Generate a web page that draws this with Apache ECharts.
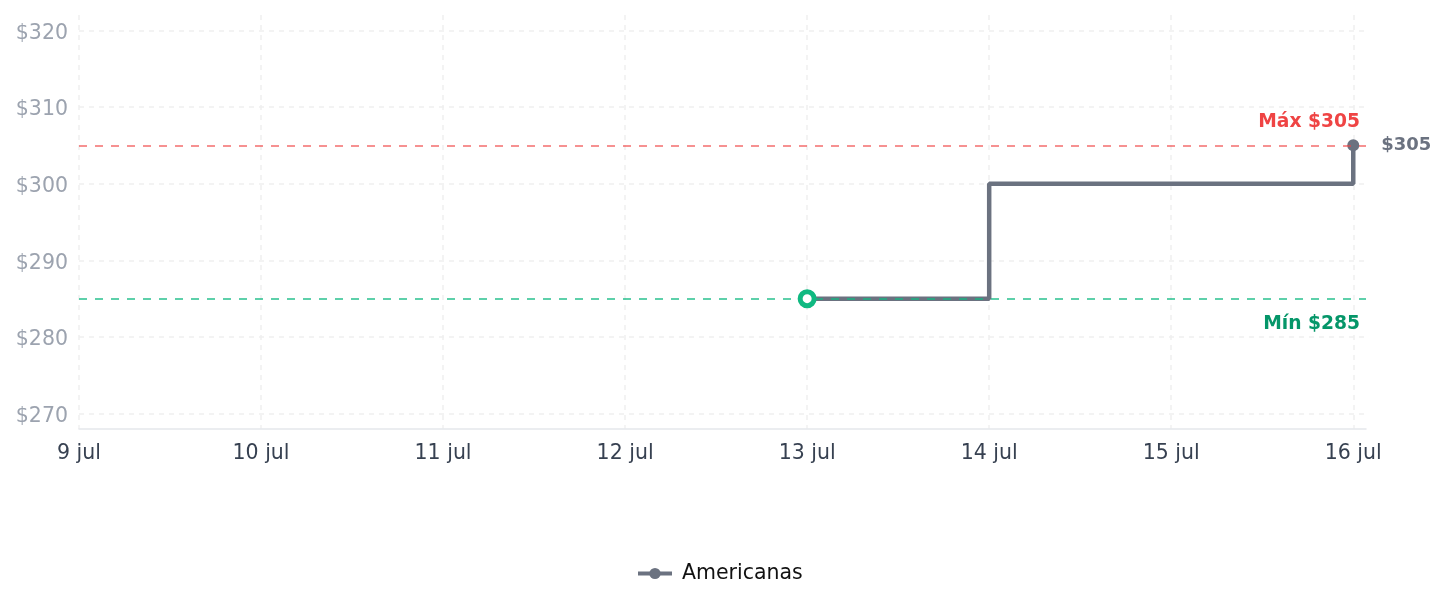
<!DOCTYPE html>
<html>
<head>
<meta charset="utf-8">
<script src="https://cdn.jsdelivr.net/npm/echarts@6/dist/echarts.min.js"></script>
<style>
html,body{margin:0;padding:0;background:#fff;}
#chart{width:1447px;height:607px;}
</style>
</head>
<body>
<div id="chart"></div>
<script>
// Data
const monthLabel = 'jul';
const days = [13, 14, 15, 16];
const prices = [285, 300, 300, 305];
const seriesName = 'Americanas';
const maxPrice = 305;
const minPrice = 285;
const xRange = [9, 16.07];
const yRange = [268, 322];

const FONT = 'DejaVu Sans, sans-serif';
const lastIdx = days.length - 1;

const seriesData = days.map((d, i) => {
  const item = { value: [d, prices[i]] };
  if (i === lastIdx) {
    item.symbol = 'circle';
    item.symbolSize = 12;
    item.label = {
      show: true, position: 'right', distance: 22,
      formatter: '$' + prices[i],
      color: '#6b7280', fontWeight: 'bold', fontSize: 18, fontFamily: FONT
    };
  } else {
    item.symbol = 'none';
  }
  return item;
});

const chart = echarts.init(document.getElementById('chart'), null, { renderer: 'canvas' });
chart.setOption({
  animation: false,
  backgroundColor: '#ffffff',
  textStyle: { fontFamily: FONT },
  grid: { left: 79, right: 81, top: 15, bottom: 178, containLabel: false },
  legend: {
    bottom: 18,
    left: 631,
    itemWidth: 34,
    itemHeight: 14,
    data: [seriesName],
    lineStyle: { width: 4 },
    textStyle: { color: '#111111', fontSize: 20.5, fontFamily: FONT, padding: [0, 0, 0, 5] }
  },
  xAxis: {
    type: 'value',
    min: xRange[0],
    max: xRange[1],
    interval: 1,
    axisLine: { show: true, lineStyle: { color: '#e5e7eb', width: 1.5 } },
    axisTick: { show: false },
    axisLabel: {
      color: '#374151', fontSize: 20.5, margin: 14, fontFamily: FONT,
      showMaxLabel: false,
      formatter: v => (Number.isInteger(v) ? v + ' ' + monthLabel : '')
    },
    splitLine: {
      show: true, showMaxLine: false,
      lineStyle: { color: '#f0f0f0', type: [5, 5], width: 1.5 }
    }
  },
  yAxis: {
    type: 'value',
    min: yRange[0],
    max: yRange[1],
    axisLine: { show: false },
    axisTick: { show: false },
    axisLabel: {
      color: '#9ca3af', fontSize: 20.5, margin: 11, fontFamily: FONT,
      verticalAlign: 'top', lineHeight: 6,
      showMinLabel: false, showMaxLabel: false,
      formatter: v => (v % 10 === 0 ? '$' + v : '')
    },
    splitLine: {
      show: true, showMinLine: false, showMaxLine: false,
      lineStyle: { color: '#f0f0f0', type: [5, 5], width: 1.5 }
    }
  },
  series: [{
    name: seriesName,
    type: 'line',
    step: 'end',
    symbol: 'circle',
    symbolSize: 12,
    showSymbol: true,
    color: '#6b7280',
    itemStyle: { color: '#6b7280' },
    lineStyle: { color: '#6b7280', width: 4.5 },
    data: seriesData,
    z: 3,
    markLine: {
      silent: true,
      symbol: ['none', 'none'],
      data: [
        {
          yAxis: maxPrice,
          lineStyle: { color: 'rgba(239,68,68,0.65)', type: [8, 8], width: 1.8 },
          label: {
            show: true, position: 'insideEndTop', distance: [6, 14],
            formatter: 'Máx $' + maxPrice,
            color: '#ef4444', fontWeight: 'bold', fontSize: 18.7, fontFamily: FONT
          }
        },
        {
          yAxis: minPrice,
          lineStyle: { color: 'rgba(16,185,129,0.75)', type: [8, 8], width: 1.8 },
          label: {
            show: true, position: 'insideEndBottom', distance: [6, 16],
            formatter: 'Mín $' + minPrice,
            color: '#059669', fontWeight: 'bold', fontSize: 18.7, fontFamily: FONT
          }
        }
      ]
    }
  }, {
    name: 'start',
    type: 'scatter',
    data: [[days[0], prices[0]]],
    symbol: 'circle',
    symbolSize: 14,
    itemStyle: { color: '#ffffff', borderColor: '#10b981', borderWidth: 5, opacity: 1 },
    z: 10,
    silent: true
  }]
});
</script>
</body>
</html>
